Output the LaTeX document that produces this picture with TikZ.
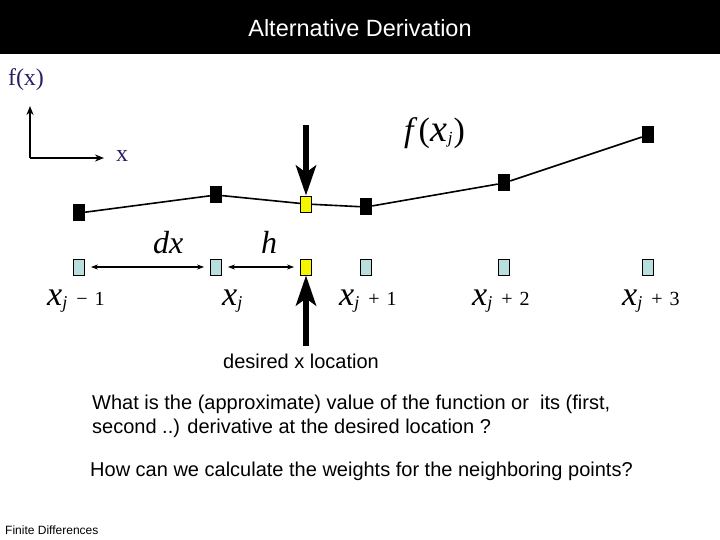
\documentclass[tikz,border=0pt]{standalone}
\usepackage{fontspec}
\setmainfont{Liberation Serif}
\setsansfont{Liberation Sans}
\usetikzlibrary{arrows.meta}
\definecolor{fxcol}{RGB}{42,30,100}
\definecolor{lcyan}{RGB}{186,222,222}
\definecolor{yel}{RGB}{245,245,0}
\newcommand{\fs}[1]{\fontsize{#1}{#1}\selectfont}
\newcommand{\xj}{{\fs{34}\itshape x}\raisebox{-3pt}{\fs{18}\itshape j}}
\newcommand{\xlbl}[2]{\xj\hspace{9pt}{\fs{20}#1\hspace{7pt}#2}}
\begin{document}
\begin{tikzpicture}[x=1pt,y=-1pt,
  bsq/.style={fill=black,minimum width=12pt,minimum height=17pt,inner sep=0pt},
  csq/.style={draw=black,line width=0.8pt,fill=lcyan,minimum width=11pt,minimum height=16pt,inner sep=0pt},
  ysq/.style={csq,fill=yel},
  dbl/.style={line width=1.4pt,{Stealth[length=7pt,width=5pt]}-{Stealth[length=7pt,width=5pt]},shorten <=6pt,shorten >=6pt},
  axis/.style={line width=1.6pt,-{Stealth[length=9pt,width=7pt]}},
  big/.style={line width=6pt,-{Stealth[length=30pt,width=20pt,inset=7pt]}},
  lbl/.style={inner sep=0pt,anchor=base west},
  sans/.style={font=\sffamily\fs{20},inner sep=0pt}]
\useasboundingbox (0,0) rectangle (720,540);
\fill[black] (0,0) rectangle (720,54);
\node[font=\sffamily\fs{23.5},text=white,inner sep=0pt] (title) at (360,28) {Alternative Derivation};
% axes
\node[text=fxcol,font=\fs{24},inner sep=0pt] (fx) at (26,80) {f(x)};
\coordinate (orig) at (30,158);
\coordinate (ytop) at (30,106);
\coordinate (xend) at (104,158);
\draw[axis] (orig) -- (ytop);
\draw[axis] (orig) -- (xend);
\node[text=fxcol,font=\fs{24},inner sep=0pt] (xl) at (122,156) {x};
% top row
\node[bsq] (t1) at (79,213) {};
\node[bsq] (t2) at (216,195) {};
\node[ysq] (t3) at (306,204) {};
\node[bsq] (t4) at (366,207) {};
\node[bsq] (t5) at (504,183) {};
\node[bsq] (t6) at (648,135) {};
\draw[line width=1.6pt] (t1) -- (t2) -- (t3) -- (t4) -- (t5) -- (t6);
% bottom row
\node[csq] (b1) at (79,267) {};
\node[csq] (b2) at (216,267) {};
\node[ysq] (b3) at (306,267) {};
\node[csq] (b4) at (366,267) {};
\node[csq] (b5) at (504,267) {};
\node[csq] (b6) at (648,267) {};
\draw[dbl] (b1) -- (b2);
\draw[dbl] (b2) -- (b3);
\node[lbl,font=\fs{32}\itshape] (dx) at (153,254) {dx};
\node[lbl,font=\fs{32}\itshape] (h) at (261,254) {h};
% big arrows
\coordinate (dtop) at (306,125);
\draw[big] (dtop) -- (t3);
\coordinate (ubot) at (306,346);
\draw[big] (ubot) -- (b3);
% labels
\node[lbl] (l1) at (47,305) {\xlbl{−}{1}};
\node[lbl] (l2) at (222,305) {\xj};
\node[lbl] (l3) at (339,305) {\xlbl{+}{1}};
\node[lbl] (l4) at (472,305) {\xlbl{+}{2}};
\node[lbl] (l5) at (622,305) {\xlbl{+}{3}};
\node[lbl] (fxj) at (404,142) {{\fs{34}\itshape f}\hspace{5pt}{\fs{34}(}\hspace{1pt}{\fs{38}\itshape x}\raisebox{-2pt}{\fs{17}\itshape j}\hspace{1pt}{\fs{34})}};
% texts
\node[sans,anchor=base] (des) at (301,368) {desired x location};
\node[sans,anchor=base west] (q1) at (92,409) {What is the (approximate) value of the function or\ \ its (first,};
\node[sans,anchor=base west] (q1b) at (92,433) {second ..) derivative at the desired location ?};
\node[sans,anchor=base west] (q2) at (90,476) {How can we calculate the weights for the neighboring points?};
\node[font=\sffamily\fs{12},anchor=base west,inner sep=0pt] (fd) at (5,534) {Finite Differences};
\end{tikzpicture}
\end{document}
